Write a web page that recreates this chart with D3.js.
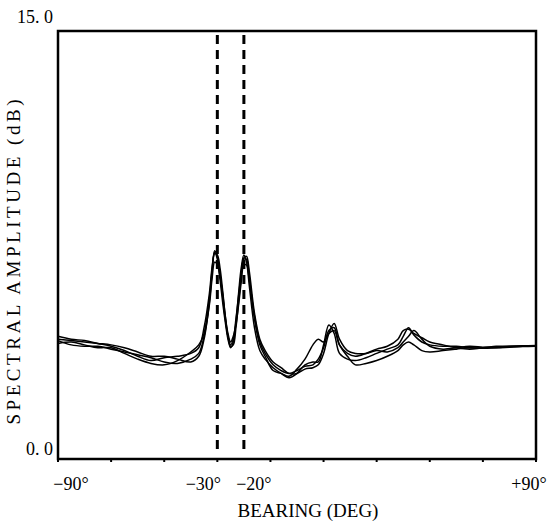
<!DOCTYPE html>
<html>
<head>
<meta charset="utf-8">
<script src="https://cdn.jsdelivr.net/npm/d3@7"></script>
<style>
  body { margin: 0; background: #fff; }
  text { font-family: "Liberation Serif", "DejaVu Serif", serif; fill: #000; }
</style>
</head>
<body>
<div id="chart"></div>
<script>
// bearing grid (deg) shared by all runs
const bearings = [-90,-85,-80,-75,-70,-65,-60,-55,-50,-45,-40,-37,-35,-33,-32,-31,-30,-29,-28,-27,-26,-25,-24,-23,-22,-21,-20,-19,-18,-16,-14,-12,-9,-6,-3,0,3,6,8,10,12,14,16,19,22,26,30,34,38,40,42,44,47,50,55,60,65,70,75,80,85,90];

// spectral amplitude (dB), one array per run
const run1 = [4.3,4.2,4.15,4.05,3.95,3.8,3.6,3.45,3.55,3.6,3.7,3.9,4.6,5.8,6.7,7.25,7.0,6.3,5.5,4.8,4.2,3.9,4.1,4.8,5.8,6.7,7.15,6.9,6.1,4.6,3.8,3.5,3.2,3.0,2.85,3.0,3.3,3.4,3.4,4.0,4.7,4.4,3.7,3.5,3.45,3.55,3.7,3.85,4.0,4.3,4.6,4.35,4.1,4.0,3.95,3.95,3.9,3.9,3.95,3.95,3.95,3.95];
const run2 = [4.05,4.1,4.0,3.9,3.9,3.7,3.5,3.35,3.3,3.45,3.75,4.0,4.4,5.6,6.6,7.3,7.1,6.5,5.7,4.9,4.3,4.0,4.2,4.9,5.7,6.5,7.0,7.0,6.4,4.9,4.0,3.6,3.1,3.0,2.9,3.15,3.5,4.0,4.2,4.1,4.4,4.5,4.0,3.7,3.6,3.7,3.85,3.95,4.2,4.5,4.55,4.4,4.25,4.1,4.0,3.9,3.85,3.9,3.92,3.95,3.97,3.98];
const run3 = [4.15,4.0,3.95,3.95,3.85,3.75,3.65,3.55,3.4,3.35,3.5,3.7,4.3,5.4,6.3,6.9,6.8,6.4,5.8,5.0,4.4,4.1,4.3,4.7,5.4,6.2,6.8,6.8,6.3,5.0,4.1,3.7,3.3,3.1,3.0,3.1,3.25,3.3,3.5,3.9,4.5,4.6,4.0,3.6,3.3,3.35,3.45,3.6,3.8,4.0,4.1,4.0,3.8,3.75,3.8,3.85,3.9,3.88,3.9,3.93,3.95,3.96];
const run4 = [4.2,4.15,4.1,4.05,4.0,3.9,3.75,3.6,3.6,3.5,3.4,3.6,4.2,5.5,6.5,7.2,7.15,6.7,5.9,5.0,4.3,3.95,4.0,4.6,5.5,6.4,7.05,7.1,6.6,5.1,4.2,3.8,3.4,3.2,3.0,3.0,3.15,3.2,3.3,3.7,4.4,4.75,4.2,3.8,3.7,3.7,3.8,3.75,3.9,4.1,4.3,4.5,4.2,3.95,3.85,3.9,3.95,3.92,3.9,3.92,3.94,3.95];

const runs = [run1, run2, run3, run4];
const sourceBearings = [-30, -20];
const xTickValues = [-90, -70, -50, -30, -10, 10, 30, 50, 70, 90];
const xLabels = [[-90, "\u221290\u00b0"], [-30, "\u221230\u00b0"], [-20, "\u221220\u00b0"], [90, "+90\u00b0"]];
const yLabels = [[15, "15. 0"], [0, "0. 0"]];

const width = 550, height = 521;
const plotL = 58, plotR = 536, plotT = 31, plotB = 459;

const svg = d3.select("#chart").append("svg")
  .attr("width", width)
  .attr("height", height);

const x = d3.scaleLinear().domain([-90, 90]).range([plotL, plotR]);
const y = d3.scaleLinear().domain([0, 15]).range([plotB, plotT]);

// source bearing markers
svg.selectAll("line.src")
  .data(sourceBearings)
  .join("line")
  .attr("class", "src")
  .attr("x1", d => x(d)).attr("x2", d => x(d))
  .attr("y1", plotT + 4).attr("y2", plotB - 4)
  .attr("stroke", "#000")
  .attr("stroke-width", 3)
  .attr("stroke-dasharray", "9,6");

// spectra
const line = d3.line()
  .x((d, i) => x(bearings[i]))
  .y(d => y(d))
  .curve(d3.curveCatmullRom.alpha(0.5));

svg.selectAll("path.run")
  .data(runs)
  .join("path")
  .attr("class", "run")
  .attr("d", line)
  .attr("fill", "none")
  .attr("stroke", "#000")
  .attr("stroke-width", 1.5);

// frame
svg.append("rect")
  .attr("x", plotL).attr("y", plotT)
  .attr("width", plotR - plotL).attr("height", plotB - plotT)
  .attr("fill", "none")
  .attr("stroke", "#000")
  .attr("stroke-width", 2.5);

// small ticks on bottom axis
svg.selectAll("line.xt")
  .data(xTickValues)
  .join("line")
  .attr("class", "xt")
  .attr("x1", d => x(d)).attr("x2", d => x(d))
  .attr("y1", plotB).attr("y2", plotB + 3)
  .attr("stroke", "#000")
  .attr("stroke-width", 2);

// tick labels
const xOffsets = { "-90": 13, "-30": -14, "-20": 10, "90": -7 };
svg.selectAll("text.xl")
  .data(xLabels)
  .join("text")
  .attr("class", "xl")
  .attr("x", d => x(d[0]) + xOffsets[d[0]])
  .attr("y", 490)
  .attr("text-anchor", "middle")
  .attr("font-size", 18)
  .text(d => d[1]);

svg.selectAll("text.yl")
  .data(yLabels)
  .join("text")
  .attr("class", "yl")
  .attr("x", 53)
  .attr("y", d => d[0] === 15 ? 23 : 455)
  .attr("text-anchor", "end")
  .attr("font-size", 18)
  .text(d => d[1]);

// axis titles
svg.append("text")
  .attr("x", 308)
  .attr("y", 517)
  .attr("text-anchor", "middle")
  .attr("font-size", 19)
  .text("BEARING (DEG)");

svg.append("text")
  .attr("transform", "translate(20,262) rotate(-90)")
  .attr("text-anchor", "middle")
  .attr("font-size", 19)
  .attr("textLength", 325)
  .attr("lengthAdjust", "spacing")
  .text("SPECTRAL AMPLITUDE (dB)");
</script>
</body>
</html>
